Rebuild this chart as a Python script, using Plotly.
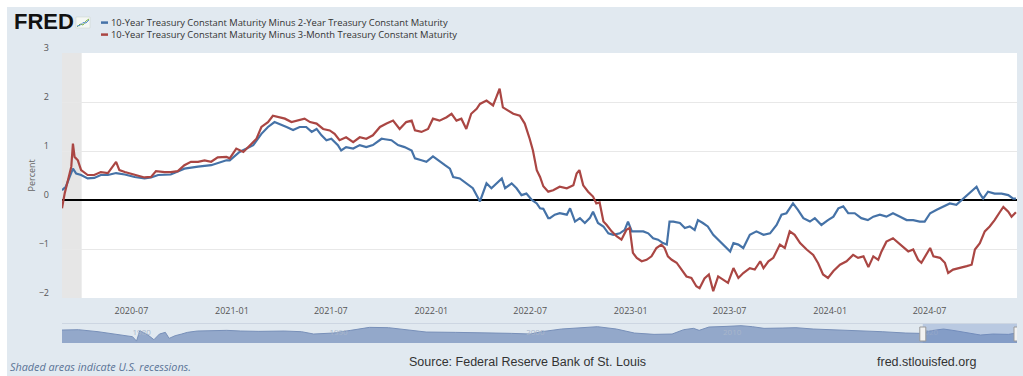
import plotly.graph_objects as go

# ---------------- data ----------------
t10y2y_dates = [
    "2020-02-25", "2020-03-03", "2020-03-10", "2020-03-16", "2020-03-22", "2020-03-31", "2020-04-12",
    "2020-04-24", "2020-05-06", "2020-05-19", "2020-06-03", "2020-06-19", "2020-07-07", "2020-07-25",
    "2020-08-06", "2020-08-19", "2020-09-11", "2020-10-06", "2020-10-31", "2020-11-24", "2020-12-22",
    "2020-12-28", "2021-01-15", "2021-02-09", "2021-02-24", "2021-03-08", "2021-03-20", "2021-03-30",
    "2021-04-11", "2021-04-23", "2021-05-05", "2021-05-17", "2021-05-27", "2021-06-05", "2021-06-14",
    "2021-06-23", "2021-07-02", "2021-07-14", "2021-07-20", "2021-07-29", "2021-08-11", "2021-08-23",
    "2021-09-04", "2021-09-16", "2021-10-02", "2021-10-08", "2021-10-20", "2021-11-01", "2021-11-13",
    "2021-11-26", "2021-12-02", "2021-12-14", "2021-12-23", "2022-01-04", "2022-01-13", "2022-01-26",
    "2022-02-04", "2022-02-10", "2022-02-22", "2022-03-06", "2022-03-18", "2022-03-31", "2022-04-12",
    "2022-04-21", "2022-04-30", "2022-05-10", "2022-05-16", "2022-05-28", "2022-06-06", "2022-06-15",
    "2022-06-24", "2022-07-04", "2022-07-13", "2022-07-19", "2022-07-25", "2022-08-03", "2022-08-06",
    "2022-08-15", "2022-08-24", "2022-09-06", "2022-09-12", "2022-09-21", "2022-09-30", "2022-10-09",
    "2022-10-18", "2022-10-24", "2022-11-02", "2022-11-12", "2022-11-21", "2022-11-30", "2022-12-12",
    "2022-12-21", "2022-12-27", "2023-01-03", "2023-01-12", "2023-01-24", "2023-02-02", "2023-02-11",
    "2023-02-20", "2023-03-01", "2023-03-08", "2023-03-13", "2023-03-20", "2023-04-01", "2023-04-10",
    "2023-04-19", "2023-04-28", "2023-05-04", "2023-05-13", "2023-05-22", "2023-06-01", "2023-06-10",
    "2023-06-19", "2023-07-02", "2023-07-08", "2023-07-17", "2023-07-26", "2023-08-07", "2023-08-19",
    "2023-09-01", "2023-09-13", "2023-09-25", "2023-10-04", "2023-10-13", "2023-10-25", "2023-11-03",
    "2023-11-13", "2023-11-25", "2023-12-04", "2023-12-16", "2023-12-28", "2024-01-07", "2024-01-16",
    "2024-01-25", "2024-02-03", "2024-02-15", "2024-02-27", "2024-03-10", "2024-03-20", "2024-04-01",
    "2024-04-13", "2024-04-25", "2024-05-08", "2024-05-20", "2024-06-01", "2024-06-13", "2024-06-22",
    "2024-07-02", "2024-07-14", "2024-07-26", "2024-08-07", "2024-08-19", "2024-08-29", "2024-09-07",
    "2024-09-16", "2024-09-25", "2024-10-01", "2024-10-07", "2024-10-16", "2024-10-28", "2024-11-10",
    "2024-11-22", "2024-12-01", "2024-12-06",
]
t10y2y_values = [
    0.20, 0.27, 0.47, 0.64, 0.54, 0.51, 0.44,
    0.45, 0.51, 0.51, 0.55, 0.52, 0.47, 0.44,
    0.46, 0.51, 0.52, 0.64, 0.68, 0.71, 0.81,
    0.81, 0.98, 1.12, 1.35, 1.49, 1.59, 1.55,
    1.49, 1.43, 1.49, 1.49, 1.39, 1.45, 1.32,
    1.22, 1.25, 1.12, 1.01, 1.08, 1.05, 1.12,
    1.08, 1.12, 1.25, 1.24, 1.22, 1.12, 1.08,
    1.01, 0.85, 0.81, 0.78, 0.89, 0.81, 0.71,
    0.64, 0.47, 0.44, 0.34, 0.24, -0.03, 0.34,
    0.24, 0.34, 0.44, 0.24, 0.34, 0.24, 0.10,
    0.13, 0.00, -0.07, -0.17, -0.18, -0.37, -0.37,
    -0.30, -0.27, -0.30, -0.17, -0.44, -0.37, -0.47,
    -0.37, -0.24, -0.47, -0.54, -0.68, -0.71, -0.68,
    -0.61, -0.44, -0.64, -0.64, -0.64, -0.68, -0.78,
    -0.81, -0.88, -0.91, -0.44, -0.44, -0.47, -0.57,
    -0.54, -0.61, -0.41, -0.47, -0.54, -0.71, -0.81,
    -0.91, -1.05, -0.88, -0.91, -0.98, -0.71, -0.64,
    -0.71, -0.68, -0.51, -0.30, -0.27, -0.07, -0.20,
    -0.37, -0.44, -0.37, -0.51, -0.41, -0.34, -0.17,
    -0.13, -0.27, -0.27, -0.37, -0.41, -0.34, -0.30,
    -0.34, -0.27, -0.34, -0.41, -0.41, -0.44, -0.44,
    -0.27, -0.20, -0.13, -0.07, -0.10, 0.00, 0.07,
    0.17, 0.27, 0.13, 0.03, 0.17, 0.13, 0.13,
    0.10, 0.03, 0.03,
]

t10y3m_dates = [
    "2020-02-25", "2020-03-01", "2020-03-07", "2020-03-13", "2020-03-16", "2020-03-19", "2020-03-25",
    "2020-03-31", "2020-04-12", "2020-04-24", "2020-05-06", "2020-05-19", "2020-06-03", "2020-06-09",
    "2020-06-19", "2020-07-07", "2020-07-25", "2020-08-06", "2020-08-15", "2020-08-31", "2020-09-11",
    "2020-09-24", "2020-10-06", "2020-10-18", "2020-10-31", "2020-11-12", "2020-11-24", "2020-12-06",
    "2020-12-22", "2020-12-28", "2021-01-09", "2021-01-22", "2021-02-06", "2021-02-15", "2021-02-24",
    "2021-03-08", "2021-03-17", "2021-03-26", "2021-04-08", "2021-04-20", "2021-05-02", "2021-05-14",
    "2021-05-24", "2021-06-05", "2021-06-17", "2021-06-29", "2021-07-08", "2021-07-17", "2021-07-29",
    "2021-08-11", "2021-08-23", "2021-09-04", "2021-09-16", "2021-09-29", "2021-10-11", "2021-10-23",
    "2021-11-04", "2021-11-16", "2021-11-26", "2021-12-02", "2021-12-14", "2021-12-26", "2022-01-04",
    "2022-01-16", "2022-01-29", "2022-02-07", "2022-02-16", "2022-02-25", "2022-03-06", "2022-03-15",
    "2022-03-25", "2022-03-31", "2022-04-12", "2022-04-24", "2022-04-30", "2022-05-06", "2022-05-12",
    "2022-05-22", "2022-05-31", "2022-06-12", "2022-06-21", "2022-06-30", "2022-07-06", "2022-07-13",
    "2022-07-19", "2022-07-25", "2022-08-03", "2022-08-12", "2022-08-24", "2022-09-06", "2022-09-18",
    "2022-09-24", "2022-09-29", "2022-10-06", "2022-10-15", "2022-10-24", "2022-10-30", "2022-11-05",
    "2022-11-12", "2022-11-18", "2022-11-27", "2022-12-06", "2022-12-15", "2022-12-24", "2022-12-30",
    "2023-01-05", "2023-01-12", "2023-01-21", "2023-01-30", "2023-02-08", "2023-02-17", "2023-02-26",
    "2023-03-04", "2023-03-10", "2023-03-17", "2023-03-26", "2023-04-04", "2023-04-13", "2023-04-22",
    "2023-05-01", "2023-05-07", "2023-05-16", "2023-05-24", "2023-06-01", "2023-06-10", "2023-06-19",
    "2023-06-28", "2023-07-08", "2023-07-17", "2023-07-26", "2023-08-07", "2023-08-16", "2023-08-26",
    "2023-09-01", "2023-09-10", "2023-09-19", "2023-10-01", "2023-10-10", "2023-10-19", "2023-10-28",
    "2023-11-07", "2023-11-19", "2023-12-01", "2023-12-10", "2023-12-19", "2023-12-28", "2024-01-07",
    "2024-01-19", "2024-01-31", "2024-02-12", "2024-02-21", "2024-03-02", "2024-03-11", "2024-03-20",
    "2024-03-29", "2024-04-04", "2024-04-13", "2024-04-25", "2024-05-05", "2024-05-14", "2024-05-23",
    "2024-06-01", "2024-06-10", "2024-06-16", "2024-06-25", "2024-07-02", "2024-07-08", "2024-07-20",
    "2024-07-29", "2024-08-04", "2024-08-13", "2024-08-26", "2024-09-07", "2024-09-16", "2024-09-22",
    "2024-10-01", "2024-10-10", "2024-10-19", "2024-10-28", "2024-11-07", "2024-11-13", "2024-11-22",
    "2024-11-28", "2024-12-06",
]
t10y3m_values = [
    -0.17, 0.14, 0.41, 0.68, 1.15, 0.88, 0.81,
    0.61, 0.51, 0.51, 0.57, 0.55, 0.78, 0.61,
    0.57, 0.51, 0.46, 0.47, 0.59, 0.57, 0.57,
    0.59, 0.71, 0.78, 0.78, 0.81, 0.78, 0.87,
    0.88, 0.85, 1.05, 0.98, 1.15, 1.25, 1.49,
    1.59, 1.72, 1.69, 1.66, 1.59, 1.62, 1.66,
    1.59, 1.56, 1.45, 1.42, 1.35, 1.22, 1.28,
    1.18, 1.28, 1.25, 1.32, 1.49, 1.56, 1.62,
    1.45, 1.59, 1.62, 1.42, 1.39, 1.45, 1.66,
    1.62, 1.69, 1.76, 1.62, 1.66, 1.45, 1.76,
    1.86, 1.96, 2.03, 1.93, 2.10, 2.27, 1.89,
    1.83, 1.76, 1.72, 1.56, 1.25, 1.01, 0.61,
    0.47, 0.28, 0.17, 0.20, 0.27, 0.24, 0.30,
    0.54, 0.61, 0.30, 0.17, 0.07, -0.07, -0.05,
    -0.44, -0.51, -0.64, -0.74, -0.81, -0.61, -0.57,
    -1.08, -1.18, -1.25, -1.22, -1.15, -0.98, -0.91,
    -0.98, -1.15, -1.22, -1.28, -1.42, -1.56, -1.59,
    -1.76, -1.80, -1.60, -1.52, -1.86, -1.56, -1.62,
    -1.69, -1.39, -1.59, -1.49, -1.39, -1.42, -1.25,
    -1.39, -1.25, -1.18, -0.91, -0.98, -0.64, -0.71,
    -0.88, -1.01, -1.12, -1.29, -1.52, -1.59, -1.45,
    -1.32, -1.25, -1.12, -1.18, -1.15, -1.37, -1.15,
    -1.22, -1.05, -0.85, -0.78, -0.88, -0.98, -1.05,
    -1.01, -1.22, -1.28, -1.12, -0.98, -1.15, -1.18,
    -1.28, -1.49, -1.42, -1.39, -1.35, -1.32, -1.01,
    -0.88, -0.64, -0.54, -0.41, -0.24, -0.14, -0.24,
    -0.34, -0.25,
]

# navigator (full history of the 10Y-2Y spread, coarse reading)
nav_dates = [
    "1976-06-01", "1977-04-01", "1978-04-01", "1979-01-15", "1979-07-01", "1980-01-01", "1980-03-15",
    "1980-05-15", "1980-10-15", "1981-02-01", "1981-05-15", "1981-09-01", "1981-11-10", "1982-03-01",
    "1982-07-01", "1982-10-15", "1983-04-15", "1984-03-15", "1984-10-15", "1985-07-01", "1986-06-01",
    "1987-09-15", "1988-08-01", "1989-03-15", "1990-03-15", "1991-02-01", "1992-01-15", "1993-01-01",
    "1993-12-01", "1994-12-01", "1996-06-01", "1998-01-01", "1999-04-01", "2000-03-15", "2000-10-15",
    "2001-10-15", "2002-09-15", "2003-08-15", "2004-08-01", "2005-07-01", "2006-07-01", "2007-06-01",
    "2008-01-01", "2008-07-01", "2008-10-15", "2009-04-15", "2010-03-15", "2010-12-01", "2011-07-01",
    "2012-02-01", "2013-01-15", "2013-09-15", "2014-08-01", "2015-08-01", "2016-10-15", "2018-02-01",
    "2019-04-15", "2020-01-15", "2020-08-01", "2021-03-15", "2021-10-15", "2022-07-01", "2023-02-01",
    "2023-09-15", "2024-07-01", "2024-12-06",
]
nav_values = [
    1.09, 1.23, 0.40, -0.57, -1.27, -1.68, -3.50,
    0.82, -1.00, -2.93, -0.57, 0.12, -2.38, -1.27,
    -0.57, 0.12, 0.68, 0.82, 0.96, 0.68, 0.54,
    0.68, 0.40, -0.57, -0.16, 0.96, 2.20, 2.07,
    1.23, 0.26, 0.12, -0.02, -0.29, -0.57, 0.40,
    1.51, 2.07, 2.48, 1.51, -0.16, -0.71, -0.57,
    1.23, 1.79, 0.96, 2.34, 2.62, 2.90, 2.48,
    1.79, 1.93, 2.07, 1.51, 1.23, 0.82, 0.40,
    -0.16, -0.29, 0.82, 1.51, 0.82, -0.16, -0.99,
    -0.57, -0.71, -0.16,
]

series_names = [
    "10-Year Treasury Constant Maturity Minus 2-Year Treasury Constant Maturity",
    "10-Year Treasury Constant Maturity Minus 3-Month Treasury Constant Maturity",
]
recession_start, recession_end = "2020-02-25", "2020-04-01"
view_start, view_end = "2020-02-25", "2024-12-08"
nav_start, nav_end = "1976-06-01", "2024-12-08"
nav_floor, nav_ceiling = -4.3, 3.6

# ---------------- styling / layout helpers ----------------
W, H = 1023, 376
PL, PR, PT, PB = 62, 1017, 53, 343     # pixel box spanned by both subplots
BG = "#e1e9f0"
BLUE, RED = "#4572a7", "#aa4643"
FONT = "Open Sans, Arial, sans-serif"


def px(x):
    return (x - PL) / (PR - PL)


def py(y):
    return (PB - y) / (PB - PT)


fig = go.Figure()

# navigator
fig.add_trace(go.Scatter(x=[nav_start, nav_end], y=[nav_floor, nav_floor], mode="lines",
                         line=dict(width=0, color="rgba(0,0,0,0)"), xaxis="x2", yaxis="y2",
                         showlegend=False, hoverinfo="skip"))
fig.add_trace(go.Scatter(x=nav_dates, y=nav_values, mode="lines", fill="tonexty",
                         fillcolor="#93a8ca", line=dict(color="#7890b9", width=1),
                         xaxis="x2", yaxis="y2", showlegend=False, hoverinfo="skip"))

# main series
fig.add_trace(go.Scatter(x=t10y2y_dates, y=t10y2y_values, mode="lines", name=series_names[0],
                         line=dict(color=BLUE, width=2.2), showlegend=False))
fig.add_trace(go.Scatter(x=t10y3m_dates, y=t10y3m_values, mode="lines", name=series_names[1],
                         line=dict(color=RED, width=2.2), showlegend=False))

LEG_Y1, LEG_Y2 = 22.6, 34.6
shapes = [
    # outer chart background (leaves a thin white margin top/left like the screenshot)
    dict(type="rect", xref="paper", yref="paper", x0=px(7), x1=px(W + 2), y0=py(H + 2), y1=py(7),
         fillcolor=BG, line=dict(width=0), layer="below"),
    # white plotting area
    dict(type="rect", xref="x domain", yref="y domain", x0=0, x1=1, y0=0, y1=1,
         fillcolor="white", line=dict(width=0), layer="below"),
    # recession band
    dict(type="rect", xref="x", yref="y domain", x0=recession_start, x1=recession_end, y0=0, y1=1,
         fillcolor="#e6e6e6", line=dict(width=0), layer="below"),
    # navigator top outline
    dict(type="line", xref="paper", yref="paper", x0=0, x1=1, y0=py(323.5), y1=py(323.5),
         line=dict(color="#cdd6e2", width=1)),
    # navigator selected-range mask
    dict(type="rect", xref="x2", yref="y2 domain", x0=view_start, x1=view_end, y0=0, y1=1,
         fillcolor="rgba(102,133,194,0.32)", line=dict(width=0), layer="above"),
    # legend swatches
    dict(type="line", xref="paper", yref="paper", x0=px(101), x1=px(108), y0=py(LEG_Y1), y1=py(LEG_Y1),
         line=dict(color=BLUE, width=2.5)),
    dict(type="line", xref="paper", yref="paper", x0=px(101), x1=px(108), y0=py(LEG_Y2), y1=py(LEG_Y2),
         line=dict(color=RED, width=2.5)),
    # small FRED chart icon
    dict(type="rect", xref="paper", yref="paper", x0=px(76), x1=px(90), y0=py(28), y1=py(17),
         fillcolor="#f4f7f4", line=dict(color="#c9d3c9", width=0.5)),
    dict(type="path", xref="paper", yref="paper",
         path=f"M {px(77)} {py(27)} L {px(80)} {py(24)} L {px(83)} {py(25)} L {px(86)} {py(21)} L {px(89)} {py(19)}",
         line=dict(color="#7cb342", width=1)),
    dict(type="path", xref="paper", yref="paper",
         path=f"M {px(77)} {py(26)} L {px(80)} {py(25.5)} L {px(83)} {py(22.5)} L {px(86)} {py(23)} L {px(89)} {py(20)}",
         line=dict(color="#5b8fd1", width=1)),
]
# navigator handles
for hx in (view_start, view_end):
    shapes.append(dict(type="rect", xref="x2", yref="paper", xsizemode="pixel", xanchor=hx,
                       x0=-3, x1=3, y0=py(341), y1=py(327), fillcolor="#f2f2f2",
                       line=dict(color="#999999", width=1), layer="above"))

annotations = [
    dict(text="<b>FRED</b>", x=px(12), y=py(21.5), xref="paper", yref="paper", xanchor="left",
         yanchor="middle", showarrow=False,
         font=dict(family="Liberation Sans, Arial, sans-serif", size=22, color="#111111")),
    dict(text=series_names[0] + "<br>" + series_names[1], x=px(110), y=py((LEG_Y1 + LEG_Y2) / 2),
         xref="paper", yref="paper", xanchor="left", yanchor="middle", align="left",
         showarrow=False, borderpad=0, font=dict(family=FONT, size=9.4, color="#333333")),
    dict(text="Percent", x=px(22), y=py(176), xref="paper", yref="paper", textangle=-90,
         showarrow=False, font=dict(family=FONT, size=9, color="#666666")),
    dict(text="<i>Shaded areas indicate U.S. recessions.</i>", x=px(8), y=py(366), xref="paper",
         yref="paper", xanchor="left", yanchor="middle", showarrow=False,
         font=dict(family=FONT, size=10.8, color="#5b7497")),
    dict(text="Source: Federal Reserve Bank of St. Louis", x=px(527), y=py(361.5), xref="paper",
         yref="paper", xanchor="center", yanchor="middle", showarrow=False,
         font=dict(family="Liberation Sans, Arial, sans-serif", size=12.5, color="#333333")),
    dict(text="fred.stlouisfed.org", x=px(926), y=py(361.5), xref="paper", yref="paper",
         xanchor="center", yanchor="middle", showarrow=False,
         font=dict(family="Liberation Sans, Arial, sans-serif", size=12.5, color="#333333")),
]

fig.update_layout(
    width=W, height=H,
    margin=dict(l=PL, r=W - PR, t=PT, b=H - PB, pad=0),
    paper_bgcolor="white", plot_bgcolor="rgba(0,0,0,0)",
    showlegend=False, hovermode=False,
    shapes=shapes, annotations=annotations,
    xaxis=dict(domain=[0, 1], anchor="y", type="date", range=[view_start, view_end],
               dtick="M6", tick0="2020-01-01", tickformat="%Y-%m", showgrid=False,
               zeroline=False, showline=False, ticks="", ticklabelstandoff=6,
               tickfont=dict(family=FONT, size=9, color="#555555")),
    yaxis=dict(domain=[py(298), 1], anchor="x", range=[-2, 3], dtick=1, tick0=0,
               showgrid=True, gridcolor="#e8e8e8", gridwidth=1,
               zeroline=True, zerolinecolor="#000000", zerolinewidth=2,
               showline=False, ticks="", ticklabelstandoff=12, ticklabelshift=-5,
               tickfont=dict(family=FONT, size=9, color="#555555")),
    xaxis2=dict(domain=[0, 1], anchor="y2", type="date", range=[nav_start, nav_end],
                dtick="M120", tick0="1980-01-01", tickformat="%Y", showgrid=False,
                zeroline=False, showline=False, ticks="", ticklabelposition="inside right",
                tickfont=dict(family=FONT, size=8, color="#a9b6cb")),
    yaxis2=dict(domain=[0, py(324)], anchor="x2", range=[nav_floor, nav_ceiling],
                visible=False, showgrid=False, zeroline=False),
)

fig.write_html("out.html", config={"displayModeBar": False},
               post_script="document.body.style.margin='0';document.body.style.overflow='hidden';")
